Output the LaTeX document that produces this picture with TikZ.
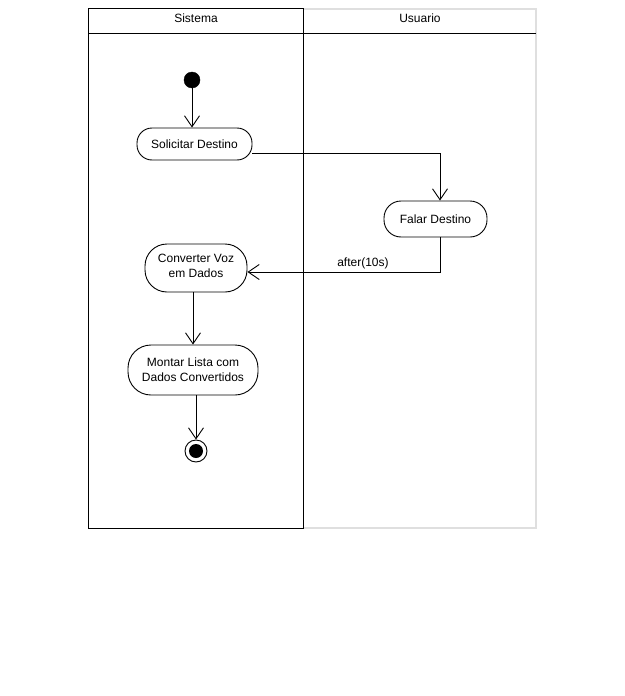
\documentclass[tikz,border=0pt]{standalone}
\usepackage{fontspec}
\setmainfont{Liberation Sans}
\usetikzlibrary{arrows.meta,calc}
\begin{document}
\begin{tikzpicture}[x=1pt,y=-1pt,
  lbl/.style={font=\fontsize{12}{15}\selectfont, inner sep=0pt},
  act/.style={draw, line width=0.9pt, fill=white, font=\fontsize{12}{15}\selectfont, align=center, inner sep=0pt},
  flow/.style={line width=0.9pt, -{Straight Barb[length=11pt,width=15pt,line width=0.9pt]}},
  lane/.style={line width=0.9pt}
]
\useasboundingbox (0,0) rectangle (624,696);
\fill[white] (0,0) rectangle (624,696);
% Usuario lane (gray)
\draw[gray!25, line width=2pt] (303,9) -- (536,9) -- (536,528) -- (303,528);
% Sistema lane (black)
\draw[lane] (88,8) rectangle (303,528);
\draw[lane] (88,33) -- (536,33);
\node[lbl] (hs) at (196,18.5) {Sistema};
\node[lbl] (hu) at (420,18.5) {Usuario};
% nodes
\node[circle, fill=black, draw, minimum size=16pt, inner sep=0pt] (init) at (192,80) {};
\node[act, minimum width=115pt, minimum height=32pt, rounded corners=15pt] (sol) at (194.5,144) {Solicitar Destino};
\node[act, minimum width=103pt, minimum height=36pt, rounded corners=17pt] (fal) at (435.5,219) {Falar Destino};
\node[act, minimum width=102pt, minimum height=48pt, rounded corners=22pt] (conv) at (196,268) {\raisebox{4pt}{\shortstack{Converter Voz\\[3pt]em Dados}}};
\node[act, minimum width=130pt, minimum height=50pt, rounded corners=23pt] (mont) at (193,370) {\raisebox{1pt}{\shortstack{Montar Lista com\\[3pt]Dados Convertidos}}};
\node[circle, draw, line width=0.9pt, fill=white, minimum size=22pt, inner sep=0pt] (fin) at (196,451) {};
\fill[black] (fin.center) circle (7pt);
% connectors
\draw[flow] (init.south) -- (init.south |- sol.north);
\coordinate (sole) at ($(sol.east)+(0,9)$);
\coordinate (faln) at ($(fal.north)+(4.5,0)$);
\draw[flow] (sole) -| (faln);
\coordinate (fals) at ($(fal.south)+(4.5,0)$);
\coordinate (conve) at ($(conv.east)+(0,4)$);
\draw[flow] (fals) |- node[lbl, pos=0.70, above=3pt] {after(10s)} (conve);
\coordinate (convs) at ($(conv.south)+(-3,0)$);
\draw[flow] (convs) -- (convs |- mont.north);
\coordinate (monts) at ($(mont.south)+(3,0)$);
\draw[flow] (monts) -- (fin.north);
\end{tikzpicture}
\end{document}
